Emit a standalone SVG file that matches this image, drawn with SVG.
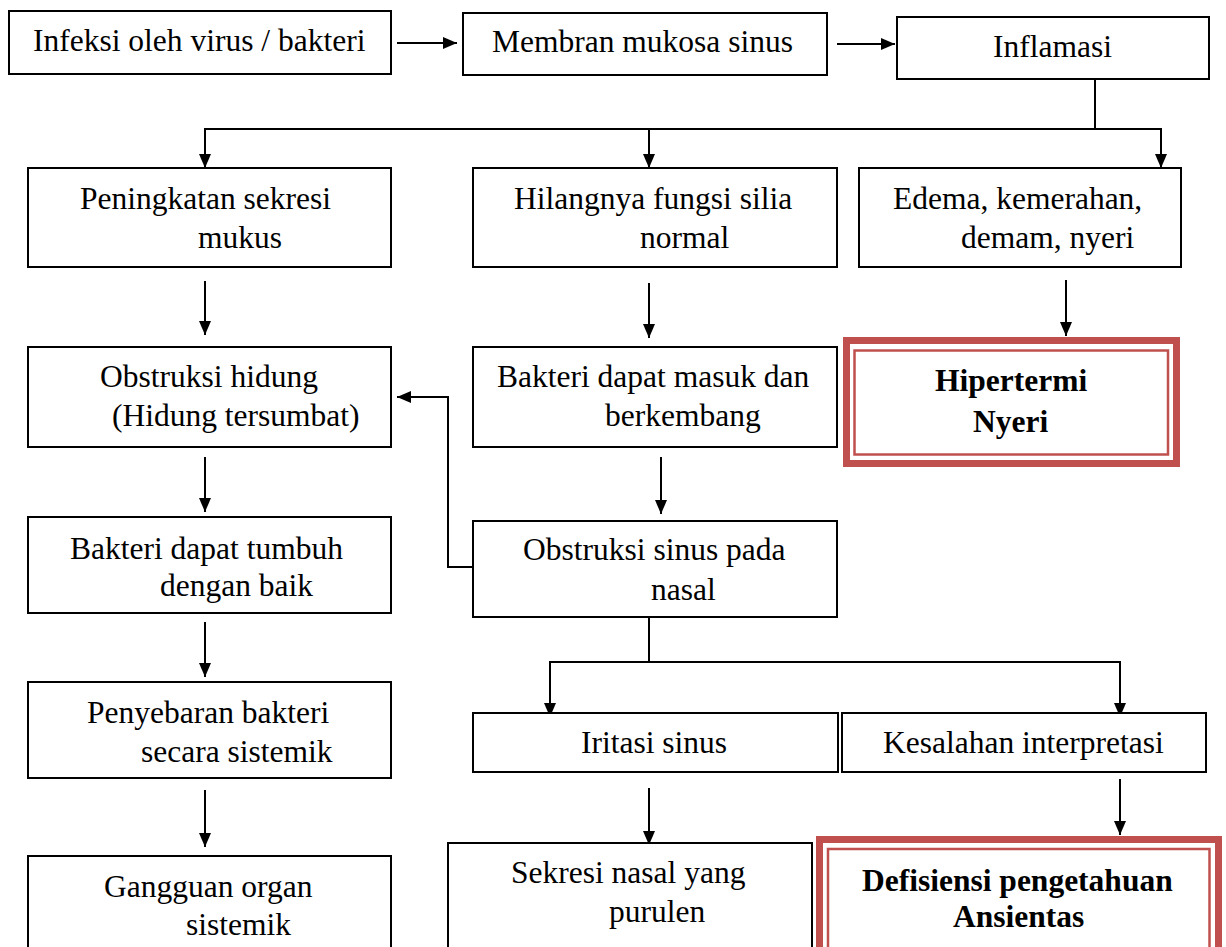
<svg xmlns="http://www.w3.org/2000/svg" width="1226" height="947" viewBox="0 0 1226 947">
<defs>
<marker id="ah" markerUnits="userSpaceOnUse" markerWidth="14" markerHeight="12" viewBox="0 0 14 12" refX="14" refY="6" orient="auto"><path d="M0,0 L14,6 L0,12 z" fill="#000"/></marker>
<style>
.box{fill:#fff;stroke:#000;stroke-width:2}
.red{fill:#fff;stroke:#C0504D;stroke-width:7}
.redin{fill:none;stroke:#C0504D;stroke-width:2.5}
.t{font-size:31.5px;fill:#000}
.b{font-weight:bold}
.c{fill:none;stroke:#000;stroke-width:2}
.a{marker-end:url(#ah)}
</style>
</defs>
<rect width="1226" height="947" fill="#fff"/>
<g id="connectors">
<line class="c a" x1="397" y1="43" x2="457" y2="43"/>
<line class="c a" x1="837" y1="44" x2="895" y2="44"/>
<polyline class="c" points="1095,79 1095,129"/>
<polyline class="c" points="205,129 1161,129"/>
<line class="c a" x1="205" y1="128" x2="205" y2="168"/>
<line class="c a" x1="649" y1="128" x2="649" y2="168"/>
<line class="c a" x1="1161" y1="128" x2="1161" y2="168"/>
<line class="c a" x1="205" y1="281" x2="205" y2="335"/>
<line class="c a" x1="649" y1="283" x2="649" y2="338"/>
<line class="c a" x1="1066" y1="280" x2="1066" y2="336"/>
<line class="c a" x1="205" y1="457" x2="205" y2="512"/>
<line class="c a" x1="661" y1="457" x2="661" y2="514"/>
<polyline class="c a" points="473,567 448,567 448,397 397,397"/>
<line class="c a" x1="205" y1="622" x2="205" y2="677"/>
<line class="c a" x1="205" y1="790" x2="205" y2="847"/>
<polyline class="c" points="649,617 649,662"/>
<polyline class="c" points="550,662 1120,662"/>
<line class="c a" x1="550" y1="661" x2="550" y2="717"/>
<line class="c a" x1="1120" y1="661" x2="1120" y2="717"/>
<line class="c a" x1="649" y1="788" x2="649" y2="845"/>
<line class="c a" x1="1120" y1="779" x2="1120" y2="835"/>
</g>
<g font-family="Liberation Serif, DejaVu Serif, serif">
<g id="n1"><rect class="box" x="9" y="11" width="382" height="63"/><text class="t" x="33" y="51">Infeksi oleh virus / bakteri</text></g>
<g id="n2"><rect class="box" x="463" y="13" width="364" height="62"/><text class="t" x="492" y="52">Membran mukosa sinus</text></g>
<g id="n3"><rect class="box" x="897" y="17" width="312" height="62"/><text class="t" x="993" y="57">Inflamasi</text></g>
<g id="n4"><rect class="box" x="28" y="168" width="363" height="99"/><text class="t" x="80" y="209">Peningkatan sekresi</text><text class="t" x="198" y="248">mukus</text></g>
<g id="n5"><rect class="box" x="473" y="168" width="364" height="99"/><text class="t" x="514" y="209">Hilangnya fungsi silia</text><text class="t" x="640" y="248">normal</text></g>
<g id="n6"><rect class="box" x="859" y="168" width="322" height="99"/><text class="t" x="893" y="209">Edema, kemerahan,</text><text class="t" x="961" y="248">demam, nyeri</text></g>
<g id="n7"><rect class="box" x="28" y="347" width="363" height="100"/><text class="t" x="100" y="387">Obstruksi hidung</text><text class="t" x="112" y="426">(Hidung tersumbat)</text></g>
<g id="n8"><rect class="box" x="473" y="347" width="364" height="100"/><text class="t" x="497" y="387">Bakteri dapat masuk dan</text><text class="t" x="605" y="426">berkembang</text></g>
<g id="n9"><rect class="red" x="846.5" y="340.5" width="330" height="123"/><rect class="redin" x="854.5" y="350.5" width="313.5" height="104"/><text class="t b" x="935" y="391">Hipertermi</text><text class="t b" x="973" y="432">Nyeri</text></g>
<g id="n10"><rect class="box" x="473" y="521" width="364" height="96"/><text class="t" x="523" y="560">Obstruksi sinus pada</text><text class="t" x="651" y="600">nasal</text></g>
<g id="n11"><rect class="box" x="28" y="517" width="363" height="96"/><text class="t" x="70" y="559">Bakteri dapat tumbuh</text><text class="t" x="160" y="596">dengan baik</text></g>
<g id="n12"><rect class="box" x="28" y="682" width="363" height="96"/><text class="t" x="87" y="723">Penyebaran bakteri</text><text class="t" x="141" y="762">secara sistemik</text></g>
<g id="n13"><rect class="box" x="28" y="856" width="363" height="120"/><text class="t" x="104" y="897">Gangguan organ</text><text class="t" x="186" y="935">sistemik</text></g>
<g id="n14"><rect class="box" x="473" y="713" width="365" height="59"/><text class="t" x="581" y="753">Iritasi sinus</text></g>
<g id="n15"><rect class="box" x="842" y="713" width="364" height="59"/><text class="t" x="883" y="753">Kesalahan interpretasi</text></g>
<g id="n16"><rect class="box" x="448" y="843" width="364" height="130"/><text class="t" x="511" y="883">Sekresi nasal yang</text><text class="t" x="609" y="922">purulen</text></g>
<g id="n17"><rect class="red" x="819.5" y="839.5" width="399" height="150"/><rect class="redin" x="828" y="849" width="381.5" height="130"/><text class="t b" x="862" y="891">Defisiensi pengetahuan</text><text class="t b" x="953" y="927">Ansientas</text></g>
</g>
</svg>
